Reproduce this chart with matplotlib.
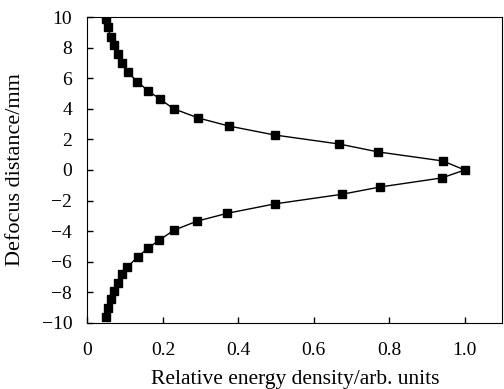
import matplotlib.pyplot as plt

plt.rcParams['font.family'] = ['Liberation Serif', 'DejaVu Serif']

energy = [0.050, 0.054, 0.062, 0.070, 0.081, 0.091, 0.108, 0.132, 0.161, 0.193,
          0.228, 0.294, 0.374, 0.496, 0.667, 0.771, 0.942, 1.0,
          0.939, 0.776, 0.674, 0.496, 0.371, 0.290, 0.229, 0.190, 0.161,
          0.133, 0.106, 0.092, 0.081, 0.071, 0.062, 0.054, 0.050]
defocus = [9.87, 9.33, 8.69, 8.19, 7.56, 6.97, 6.38, 5.77, 5.18, 4.62,
           4.01, 3.40, 2.88, 2.29, 1.70, 1.18, 0.59, 0.0,
           -0.52, -1.11, -1.59, -2.22, -2.83, -3.35, -3.94, -4.59, -5.10,
           -5.69, -6.34, -6.82, -7.39, -7.93, -8.43, -9.02, -9.61]

fig = plt.figure(figsize=(5.04, 3.89), dpi=100)
ax = fig.add_axes([0.1736, 0.170, 0.8234, 0.786])
ax.plot(energy, defocus, color='black', lw=1, marker='s', ms=5.5,
        markerfacecolor='black', markeredgecolor='black')

ax.set_xlim(0, 1.1)
ax.set_ylim(-10, 10)
ax.set_xticks([0, 0.2, 0.4, 0.6, 0.8, 1.0])
ax.set_xticklabels(['0', '0.2', '0.4', '0.6', '0.8', '1.0'])
ax.set_yticks(range(-10, 11, 2))
ax.set_yticklabels([str(v).replace('-', '\u2212') for v in range(-10, 11, 2)])
ax.tick_params(direction='in', labelsize=14, length=4, width=1)
ax.tick_params(axis='y', pad=11)
ax.tick_params(axis='x', pad=14)
ax.set_xlabel('Relative energy density/arb. units', fontsize=15.5, labelpad=8)
ax.set_ylabel('Defocus distance/mm', fontsize=16, labelpad=12)

fig.savefig('out.png', dpi=100)
